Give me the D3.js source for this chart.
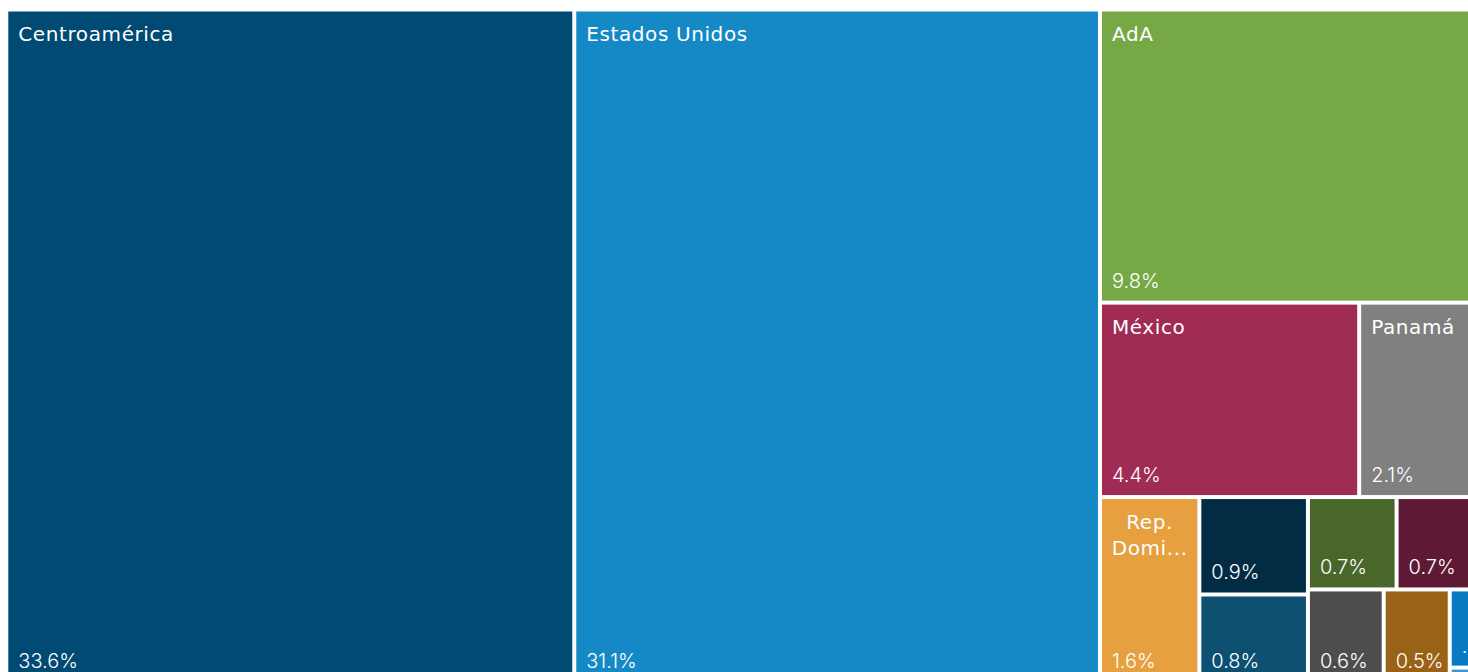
<!DOCTYPE html>
<html>
<head>
<meta charset="utf-8">
<script src="https://cdn.jsdelivr.net/npm/d3@7"></script>
<style>
  html, body { margin: 0; padding: 0; background: #ffffff; overflow: hidden; }
  svg { display: block; }
</style>
</head>
<body>
<svg id="chart" width="1468" height="672"></svg>
<script>
// ---- data ----
const categories = ["Centroamérica", "Estados Unidos", "AdA", "México", "Panamá", "Rep. Dominicana", "", "", "", "", "", "", "", ""];
const shares     = [33.6, 31.1, 9.8, 4.43, 2.07, 1.62, 0.93, 0.84, 0.72, 0.68, 0.62, 0.54, 0.21, 0.04];

// ---- styles ----
const palette = ["#004a73", "#1589c6", "#77a846", "#a02b55", "#808080", "#e6a040",
                 "#012c44", "#0d5072", "#4a672b", "#5e1a35", "#4d4d4d", "#9a6217", "#0a7bc0", "#3a95d2"];
const frame = { left: 8.3, top: 11.5, width: 1470, height: 669 };
const GAP = 4;
const PAD = 10;
const NAME_FONT = "'DejaVu Sans', Inter, sans-serif";
const NAME_SPACING = 0.6;
const VALUE_FONT = "Inter, 'DejaVu Sans', sans-serif";
const FONT_SIZE = 20;
const SQUARE_TOLERANCE = 1.01; // near-square remainders are split into rows

// squarified tiling (rows laid along the shorter side)
function tileSquarify(parent, x0, y0, x1, y1) {
  const nodes = parent.children, n = nodes.length;
  let i0 = 0, i1 = 0, value = parent.value;
  while (i0 < n) {
    const dx = x1 - x0, dy = y1 - y0;
    let sumValue;
    do sumValue = nodes[i1++].value; while (!sumValue && i1 < n);
    let minValue = sumValue, maxValue = sumValue;
    const alpha = Math.max(dy / dx, dx / dy) / value;
    let beta = sumValue * sumValue * alpha;
    let minRatio = Math.max(maxValue / beta, beta / minValue);
    for (; i1 < n; ++i1) {
      const v = nodes[i1].value;
      sumValue += v;
      if (v < minValue) minValue = v;
      if (v > maxValue) maxValue = v;
      beta = sumValue * sumValue * alpha;
      const newRatio = Math.max(maxValue / beta, beta / minValue);
      if (newRatio > minRatio) { sumValue -= v; break; }
      minRatio = newRatio;
    }
    const row = { value: sumValue, children: nodes.slice(i0, i1) };
    if (dx < dy * SQUARE_TOLERANCE) d3.treemapDice(row, x0, y0, x1, value ? y0 += dy * sumValue / value : y1);
    else d3.treemapSlice(row, x0, y0, value ? x0 += dx * sumValue / value : x1, y1);
    value -= sumValue; i0 = i1;
  }
}

const items = categories.map((name, i) => ({ name, value: shares[i], index: i }));
const root = d3.hierarchy({ children: items }).sum(d => d.value || 0);
d3.treemap().size([frame.width, frame.height]).paddingInner(GAP).tile(tileSquarify)(root);

const svg = d3.select("#chart");
const g = svg.append("g").attr("transform", `translate(${frame.left},${frame.top})`);

const cells = g.selectAll("g.cell").data(root.leaves()).join("g").attr("class", "cell");
cells.append("rect")
  .attr("x", d => d.x0).attr("y", d => d.y0)
  .attr("width", d => Math.max(0, d.x1 - d.x0))
  .attr("height", d => Math.max(0, d.y1 - d.y0))
  .attr("fill", d => palette[d.data.index]);

const measurer = svg.append("text").attr("font-size", FONT_SIZE).attr("visibility", "hidden");
function textWidth(s, font, spacing) {
  measurer.attr("font-family", font).attr("letter-spacing", spacing || 0).text(s);
  return measurer.node().getComputedTextLength();
}
function fit(s, avail, font, spacing) {
  if (textWidth(s, font, spacing) <= avail) return s;
  for (let k = s.length - 1; k > 0; k--) {
    const t = s.slice(0, k) + "...";
    if (textWidth(t, font, spacing) <= avail) return t;
  }
  return "...";
}

const fmt = v => v.toFixed(1) + "%";

cells.each(function (d) {
  const cell = d3.select(this);
  const w = d.x1 - d.x0, h = d.y1 - d.y0;
  const avail = w - 2 * PAD;
  const name = d.data.name;
  if (name && h > 60) {
    if (textWidth(name, NAME_FONT, NAME_SPACING) <= avail) {
      cell.append("text").attr("class", "name").attr("x", d.x0 + PAD).attr("y", d.y0 + 29).text(name);
    } else {
      const words = name.split(" ");
      const lines = [];
      let cur = "";
      words.forEach(wd => {
        const test = cur ? cur + " " + wd : wd;
        if (!cur || textWidth(test, NAME_FONT, NAME_SPACING) <= avail) cur = test;
        else { lines.push(cur); cur = wd; }
      });
      if (cur) lines.push(cur);
      lines.forEach((ln, i) => {
        cell.append("text").attr("class", "name").attr("x", (d.x0 + d.x1) / 2).attr("y", d.y0 + 30 + i * 26)
          .attr("text-anchor", "middle").text(fit(ln, avail + 2, NAME_FONT, NAME_SPACING));
      });
    }
  }
  if (h > 30) {
    cell.append("text").attr("class", "value").attr("x", d.x0 + PAD).attr("y", d.y1 - 13)
      .text(fit(fmt(d.data.value), w - PAD + 2, VALUE_FONT, 0));
  }
});

g.selectAll("text.name")
  .attr("font-family", NAME_FONT).attr("font-size", FONT_SIZE).attr("letter-spacing", NAME_SPACING)
  .attr("fill", "#ffffff");
g.selectAll("text.value")
  .attr("font-family", VALUE_FONT).attr("font-size", FONT_SIZE).attr("font-weight", 300)
  .attr("fill", "#ffffff");
measurer.remove();
</script>
</body>
</html>
